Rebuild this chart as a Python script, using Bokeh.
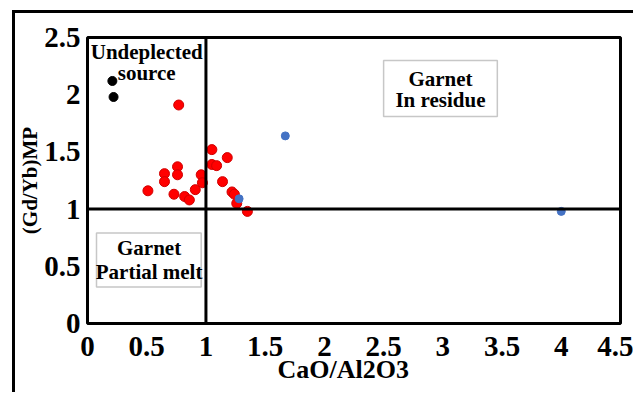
from bokeh.plotting import figure
from bokeh.models import Span, Label, BoxAnnotation, FixedTicker, CustomJSTickFormatter, Title
from bokeh.embed import file_html
from bokeh.resources import INLINE

# Samples: CaO/Al2O3 vs (Gd/Yb)MP
red_x = [0.51, 0.65, 0.65, 0.76, 0.76, 0.73, 0.82, 0.86, 0.91, 0.96, 0.97,
         1.05, 1.05, 1.09, 1.18, 1.14, 1.22, 1.24, 1.26, 1.35, 0.77]
red_y = [1.16, 1.31, 1.24, 1.37, 1.30, 1.13, 1.11, 1.08, 1.17, 1.30, 1.23,
         1.52, 1.39, 1.38, 1.45, 1.24, 1.15, 1.13, 1.05, 0.98, 1.91]

blue_x = [1.28, 1.67, 4.0]
blue_y = [1.09, 1.64, 0.98]

black_x = [0.21, 0.22]
black_y = [2.12, 1.98]

x_ticks = [0, 0.5, 1, 1.5, 2, 2.5, 3, 3.5, 4, 4.5]
y_ticks = [0, 0.5, 1, 1.5, 2, 2.5]

SERIF = "Liberation Serif"

# canvas sits inside a chart-area border drawn by CSS
OX, OY = 15, 13
p = figure(width=636 - OX, height=395 - OY, x_range=(0, 4.5), y_range=(0, 2.5),
           output_backend="svg", toolbar_location=None,
           min_border_left=85 - OX, min_border_right=16, min_border_top=37 - OY,
           min_border_bottom=72,
           margin=(OY - 3, 0, 0, OX - 3),
           styles={"border-left": "3px solid black", "border-top": "3px solid black"})
p.grid.visible = False
p.outline_line_color = "black"
p.outline_line_width = 3
p.background_fill_color = "white"
p.border_fill_color = "white"

for ax in (p.xaxis[0], p.yaxis[0]):
    ax.axis_line_color = None
    ax.major_tick_line_color = None
    ax.minor_tick_line_color = None
    ax.major_tick_out = 0
    ax.major_tick_in = 0
    ax.minor_tick_out = 0
    ax.major_label_text_font = SERIF
    ax.major_label_text_font_style = "bold"
    ax.major_label_text_font_size = "29px"
    ax.major_label_text_color = "black"
    ax.formatter = CustomJSTickFormatter(code="return String(tick);")

p.xaxis[0].ticker = FixedTicker(ticks=x_ticks)
p.yaxis[0].ticker = FixedTicker(ticks=y_ticks)
p.xaxis[0].major_label_standoff = 13
p.yaxis[0].major_label_standoff = 7

# Axis titles
p.add_layout(Title(text="CaO/Al2O3", align="left", offset=190, standoff=-12,
                   text_font=SERIF, text_font_style="bold",
                   text_font_size="26px", text_color="black"), "below")
p.add_layout(Title(text="(Gd/Yb)MP", align="center", standoff=0,
                   text_font=SERIF, text_font_style="bold",
                   text_font_size="21px", text_color="black"), "left")

# Threshold lines
p.add_layout(Span(location=1, dimension="height", line_color="black", line_width=3))
p.add_layout(Span(location=1, dimension="width", line_color="black", line_width=3))

# Text boxes
p.add_layout(BoxAnnotation(left=2.50, right=3.46, bottom=1.81, top=2.30,
                           fill_color="white", fill_alpha=1,
                           line_color="#444444", line_width=1.5, level="underlay"))
p.add_layout(BoxAnnotation(left=0.076, right=0.96, bottom=0.32, top=0.79,
                           fill_color="white", fill_alpha=1,
                           line_color="#444444", line_width=1.5, level="underlay"))

def note(x, y, text):
    p.add_layout(Label(x=x, y=y, text=text, text_align="center",
                       text_baseline="middle", text_font=SERIF,
                       text_font_style="bold", text_font_size="21px",
                       text_color="black"))

note(0.5, 2.37, "Undeplected")
note(0.5, 2.19, "source")
note(2.98, 2.14, "Garnet")
note(2.98, 1.95, "In residue")
note(0.52, 0.66, "Garnet")
note(0.52, 0.45, "Partial melt")

# Points
p.scatter(black_x, black_y, size=9, color="black")
p.scatter(red_x, red_y, size=10, fill_color="#FF0000", line_color="#D00000", line_width=1)
p.scatter(blue_x, blue_y, size=8, fill_color="#4472C4", line_color="#4472C4")

open("out.html", "w").write(file_html(p, INLINE))
